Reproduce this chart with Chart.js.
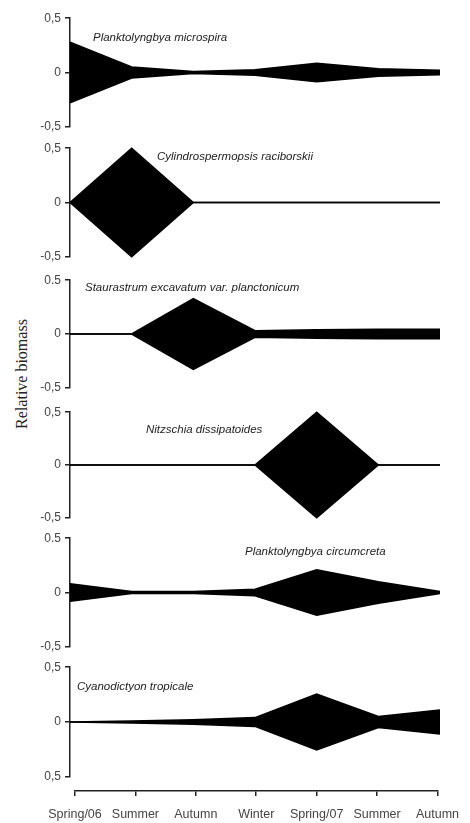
<!DOCTYPE html>
<html>
<head>
<meta charset="utf-8">
<script src="https://cdn.jsdelivr.net/npm/chart.js@4.4.1/dist/chart.umd.min.js"></script>
<style>
  body { margin: 0; background: #fff; width: 470px; height: 823px; position: relative; overflow: hidden; }
  canvas { position: absolute; left: 0; }
  .species { position: absolute; font: italic 11.5px "Liberation Sans", Arial, sans-serif; color: #222; white-space: nowrap; }
  #ytitle { position: absolute; left: 22px; top: 374px; transform: translate(-50%, -50%) rotate(-90deg);
    font: 16px "Liberation Serif", "Times New Roman", serif; color: #222; white-space: nowrap; }
</style>
</head>
<body>
<div id="ytitle">Relative biomass</div>
<script>
// seasons along the bottom
const seasons = ["Spring/06", "Summer", "Autumn", "Winter", "Spring/07", "Summer", "Autumn"];

// half-width of each band (relative biomass), one value per season
const microspira   = [0.28, 0.05, 0.01, 0.025, 0.085, 0.035, 0.02];
const raciborskii  = [0, 0.5, 0, 0, 0, 0, 0];
const excavatum    = [0, 0, 0.33, 0.03, 0.04, 0.045, 0.045];
const dissipatoides = [0, 0, 0, 0, 0.5, 0, 0];
const circumcreta  = [0.08, 0.01, 0.01, 0.03, 0.21, 0.1, 0.01];
const tropicale    = [0, 0.01, 0.02, 0.04, 0.255, 0.05, 0.11];

const speciesNames = [
  "Planktolyngbya microspira",
  "Cylindrospermopsis raciborskii",
  "Staurastrum excavatum  var. planctonicum",
  "Nitzschia dissipatoides",
  "Planktolyngbya circumcreta",
  "Cyanodictyon tropicale",
];
const seriesList = [microspira, raciborskii, excavatum, dissipatoides, circumcreta, tropicale];

// tick labels per panel: [top, middle, bottom]
const tickLabels = [
  ["0,5", "0", "-0,5"],
  ["0,5", "0", "-0,5"],
  ["0.5", "0", "-0,5"],
  ["0,5", "0", "-0,5"],
  ["0.5", "0", "-0,5"],
  ["0,5", "0", "0,5"],
];

// layout: pixel y of the +0.5 and -0.5 ticks, and where each name sits
const panelTop    = [17, 147, 279, 411, 537, 666];
const panelBottom = [128, 258, 389, 519, 648, 778];
const namePos = [[93, 31], [157, 150], [85, 281], [146, 423], [245, 545], [77, 680]];

const PAD = 10;

function makePanel(i) {
  const cv = document.createElement("canvas");
  const h = panelBottom[i] - panelTop[i] + 2 * PAD;
  cv.width = 470;
  cv.height = h;
  cv.style.top = (panelTop[i] - PAD) + "px";
  document.body.appendChild(cv);

  const upper = seriesList[i];
  const lower = upper.map(v => -v);
  const labels = tickLabels[i];

  new Chart(cv.getContext("2d"), {
    type: "line",
    data: {
      labels: seasons,
      datasets: [
        { data: upper, borderColor: "#000", borderWidth: 1.5, backgroundColor: "#000",
          fill: "+1", pointRadius: 0, tension: 0, clip: false },
        { data: lower, borderColor: "#000", borderWidth: 1.5,
          fill: false, pointRadius: 0, tension: 0, clip: false },
      ],
    },
    options: {
      responsive: false,
      animation: false,
      devicePixelRatio: 1,
      layout: { padding: { top: PAD, bottom: PAD, left: 0, right: 30 } },
      plugins: { legend: { display: false }, tooltip: { enabled: false } },
      scales: {
        x: { display: false, offset: false },
        y: {
          min: -0.5, max: 0.5,
          afterFit: s => { s.width = 70; },
          border: { display: true, color: "#222", width: 1.5 },
          grid: { drawOnChartArea: false, drawTicks: true, tickLength: 5, color: "#222", lineWidth: 1.5 },
          ticks: {
            stepSize: 0.5, padding: 4, color: "#444",
            font: { family: "Liberation Sans, Arial, sans-serif", size: 12 },
            callback: v => v > 0.1 ? labels[0] : (v < -0.1 ? labels[2] : labels[1]),
          },
        },
      },
    },
  });

  const name = document.createElement("div");
  name.className = "species";
  name.textContent = speciesNames[i];
  name.style.left = namePos[i][0] + "px";
  name.style.top = namePos[i][1] + "px";
  document.body.appendChild(name);
}

for (let i = 0; i < seriesList.length; i++) makePanel(i);

// detached x axis at the bottom
const axCv = document.createElement("canvas");
axCv.width = 470;
axCv.height = 43;
axCv.style.top = "780px";
document.body.appendChild(axCv);
new Chart(axCv.getContext("2d"), {
  type: "line",
  data: { labels: seasons, datasets: [] },
  options: {
    responsive: false,
    animation: false,
    devicePixelRatio: 1,
    layout: { padding: { top: 10, bottom: 0, left: 75, right: 25 } },
    plugins: { legend: { display: false }, tooltip: { enabled: false } },
    scales: {
      y: { display: false },
      x: {
        offset: false,
        afterFit: s => { s.height = 32; },
        border: { display: true, color: "#222", width: 1.5 },
        grid: { drawOnChartArea: false, drawTicks: true, tickLength: 5, color: "#222", lineWidth: 1.5 },
        ticks: {
          autoSkip: false, maxRotation: 0, padding: 11, color: "#444",
          font: { family: "Liberation Sans, Arial, sans-serif", size: 12.5 },
        },
      },
    },
  },
});
</script>
</body>
</html>
